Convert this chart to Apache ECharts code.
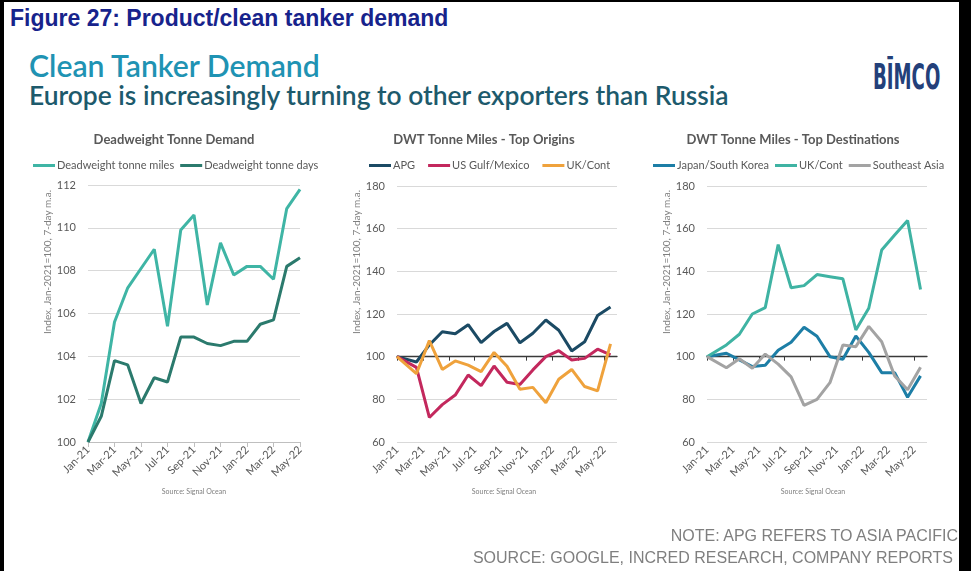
<!DOCTYPE html>
<html>
<head>
<meta charset="utf-8">
<script src="https://cdn.jsdelivr.net/npm/echarts@6/dist/echarts.min.js"></script>
<style>
  html, body { margin: 0; padding: 0; background: #fff; }
  #page { position: relative; width: 971px; height: 571px; overflow: hidden; background: #fff; }
  .frame { position: absolute; background: #000; }
  .chart { position: absolute; left: 0; top: 0; width: 971px; height: 571px; }
  .txt { position: absolute; white-space: nowrap; }
  #fig { left: 10px; top: 5px; font: bold 23px "Liberation Sans", Arial, sans-serif; color: #17238c; }
  #head { left: 29px; top: 47px; font: 600 30.2px Lato, sans-serif; color: #1f93b3; }
  #sub { left: 29px; top: 79px; font: 600 26.4px Lato, sans-serif; color: #1d5a6c; }
  #logo { left: 873px; top: 56px; font: bold 36px "DejaVu Sans Condensed", sans-serif; color: #23407a; transform: scaleX(0.56); transform-origin: left top; }
  #note { right: 13px; top: 527px; font: 16px "Liberation Sans", Arial, sans-serif; color: #7f7f7f; }
  #src { right: 18px; top: 549px; font: 16px "Liberation Sans", Arial, sans-serif; color: #7f7f7f; }
</style>
</head>
<body>
<div id="page">
  <div class="txt" id="fig">Figure 27: Product/clean tanker demand</div>
  <div class="txt" id="head">Clean Tanker Demand</div>
  <div class="txt" id="sub">Europe is increasingly turning to other exporters than Russia</div>
  <div class="txt" id="logo">BĪMCO</div>
  <div class="chart" id="c1"></div>
  <div class="chart" id="c2"></div>
  <div class="chart" id="c3"></div>
  <div class="txt" id="note">NOTE: APG REFERS TO ASIA PACIFIC</div>
  <div class="txt" id="src">SOURCE: GOOGLE, INCRED RESEARCH, COMPANY REPORTS</div>
  <div class="frame" style="left:0;top:0;width:971px;height:2px"></div>
  <div class="frame" style="left:0;top:0;width:4px;height:571px"></div>
  <div class="frame" style="left:959px;top:0;width:12px;height:571px"></div>
</div>
<script>
// x positions are months since Jan-21
const tickLabels = ["Jan-21", "Mar-21", "May-21", "Jul-21", "Sep-21", "Nov-21", "Jan-22", "Mar-22", "May-22"];
const tickPos = [0, 2, 4, 6, 8, 10, 12, 14, 16];

// Deadweight Tonne Demand (monthly)
const demandX = [0, 1, 2, 3, 4, 5, 6, 7, 8, 9, 10, 11, 12, 13, 14, 15, 16];
const tonneMiles = [100, 101.8, 105.6, 107.2, 108.1, 109.0, 105.4, 109.9, 110.6, 106.4, 109.3, 107.8, 108.2, 108.2, 107.6, 110.9, 111.8];
const tonneDays = [100, 101.2, 103.8, 103.6, 101.8, 103.0, 102.8, 104.9, 104.9, 104.6, 104.5, 104.7, 104.7, 105.5, 105.7, 108.2, 108.6];

// DWT tonne miles, origins and destinations (mid-month points)
const tripX = [0, 1.5, 2.5, 3.5, 4.5, 5.5, 6.5, 7.5, 8.5, 9.5, 10.5, 11.5, 12.5, 13.5, 14.5, 15.5, 16.5];
const apg = [100, 97.5, 105.5, 111.7, 110.7, 115, 106.6, 111.8, 115.6, 106.5, 111, 117.2, 112.4, 102.7, 107, 119.3, 123.3];
const usGulf = [100, 95, 71.5, 77.5, 82, 91.4, 86.4, 95.6, 88, 87, 93.8, 100, 102.8, 98.4, 99.2, 103.5, 100.8];
const ukContOrigin = [100, 92, 107.5, 94, 98, 96, 93, 102, 95.5, 84.7, 85.6, 78.4, 89.4, 94, 86, 84, 106];
const japanKorea = [100, 101.6, 98.5, 95.4, 96, 103, 106.8, 113.8, 109.6, 100, 98.8, 109.7, 102, 92.5, 92.5, 81, 91];
const ukContDest = [100, 105.5, 110.5, 120, 123, 152.5, 132.3, 133.3, 138.5, 137.5, 136.5, 112.5, 122.7, 150, 157, 163.8, 131.5];
const seAsia = [100, 94.8, 99, 94.6, 101.2, 96.5, 90.5, 77.2, 80, 87.8, 105.5, 104.7, 114.2, 107, 91, 84.5, 95];

const grey = "#595959";
const font = "Lato, sans-serif";

function pairs(xs, ys) {
  return xs.map((x, i) => [x, ys[i]]);
}

function line(name, color, xs, ys) {
  return {
    name,
    type: "line",
    data: pairs(xs, ys),
    showSymbol: false,
    lineStyle: { width: 3, color },
    itemStyle: { color }
  };
}

function decor(cx, title, nameX) {
  return [
    { type: "text", x: cx, y: 140, style: { text: title, font: "bold 13px " + font, fill: grey, align: "center", verticalAlign: "middle" } },
    { type: "text", x: nameX, y: 262, rotation: Math.PI / 2, style: { text: "Index, Jan-2021=100, 7-day m.a.", font: "10px " + font, fill: "#7f7f7f", align: "center", verticalAlign: "middle" } },
    { type: "text", x: cx + 20, y: 492, style: { text: "Source: Signal Ocean", font: "7px " + font, fill: "#7f7f7f", align: "center", verticalAlign: "middle" } }
  ];
}

function legend(left, gap) {
  return {
    left, top: 160, padding: 0, icon: "rect", itemWidth: 22, itemHeight: 3, itemGap: gap,
    textStyle: { fontFamily: font, fontSize: 11, color: grey, padding: [0, 0, 0, -3] }
  };
}

const xLabel = {
  rotate: 45, fontSize: 11, color: grey, fontFamily: font, margin: 6,
  customValues: tickPos,
  formatter: (v) => tickLabels[Math.round(v / 2)]
};

// chart 1
const c1 = echarts.init(document.getElementById("c1"));
c1.setOption({
  animation: false,
  graphic: decor(174, "Deadweight Tonne Demand", 48),
  legend: legend(33, 6),
  grid: { left: 88, top: 185, width: 212, height: 257 },
  xAxis: {
    type: "value", min: 0, max: 16, interval: 2,
    axisLine: { lineStyle: { color: "#bfbfbf" } },
    axisTick: { length: 5, customValues: tickPos, lineStyle: { color: "#bfbfbf" } },
    axisLabel: xLabel,
    splitLine: { show: false }
  },
  yAxis: {
    type: "value", min: 100, max: 112, interval: 2,
    axisLine: { show: false }, axisTick: { show: false },
    axisLabel: { fontSize: 11, color: grey, fontFamily: font, margin: 12 },
    splitLine: { lineStyle: { color: "#d9d9d9" } }
  },
  series: [
    line("Deadweight tonne miles", "#3fb5a5", demandX, tonneMiles),
    line("Deadweight tonne days", "#2b7a6d", demandX, tonneDays)
  ]
});

function tripOption(cx, title, nameX, left, legendLeft, gap, series) {
  const top = 186, height = 256;
  return {
    animation: false,
    graphic: decor(cx, title, nameX),
    legend: legend(legendLeft, gap),
    grid: { left, top, width: 220, height },
    xAxis: [
      {
        type: "value", min: 0, max: 17,
        axisLine: { show: false }, axisTick: { show: false },
        axisLabel: xLabel,
        splitLine: { show: false }
      },
      {
        // dark base line through 100
        type: "value", min: 0, max: 17, position: "top",
        offset: -height * (180 - 100) / 120,
        axisLine: { onZero: false, lineStyle: { color: "#3a3a3a", width: 1.3 } },
        axisTick: { inside: true, length: 4, customValues: tickPos, lineStyle: { color: "#3a3a3a" } },
        axisLabel: { show: false },
        splitLine: { show: false }
      }
    ],
    yAxis: {
      type: "value", min: 60, max: 180, interval: 20,
      axisLine: { show: false }, axisTick: { show: false },
      axisLabel: { fontSize: 11, color: grey, fontFamily: font, margin: 12 },
      splitLine: { lineStyle: { color: "#d9d9d9" } }
    },
    series
  };
}

const c2 = echarts.init(document.getElementById("c2"));
c2.setOption(tripOption(484, "DWT Tonne Miles - Top Origins", 357, 397, 369, 13, [
  line("APG", "#1b4a64", tripX, apg),
  line("US Gulf/Mexico", "#c3285d", tripX, usGulf),
  line("UK/Cont", "#efa23c", tripX, ukContOrigin)
]));

const c3 = echarts.init(document.getElementById("c3"));
c3.setOption(tripOption(793, "DWT Tonne Miles - Top Destinations", 667, 707, 653, 6, [
  line("Japan/South Korea", "#1d7ea6", tripX, japanKorea),
  line("UK/Cont", "#3fb3a3", tripX, ukContDest),
  line("Southeast Asia", "#a3a3a3", tripX, seAsia)
]));
</script>
</body>
</html>
